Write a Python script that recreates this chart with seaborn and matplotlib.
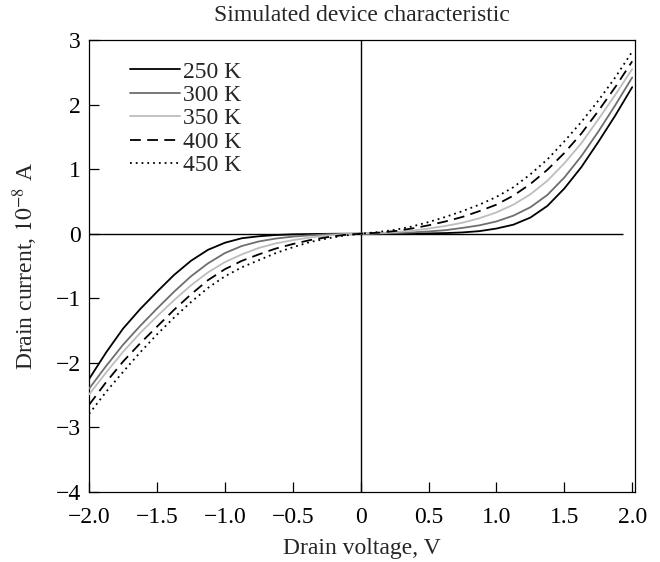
import numpy as np
import pandas as pd
import matplotlib
matplotlib.use("Agg")
import matplotlib.pyplot as plt
import seaborn as sns

# drain voltage grid, V
voltage = [-2.0, -1.875, -1.75, -1.625, -1.5, -1.375, -1.25, -1.125, -1.0,
           -0.875, -0.75, -0.625, -0.5, -0.375, -0.25, -0.125, 0.0,
           0.125, 0.25, 0.375, 0.5, 0.625, 0.75, 0.875, 1.0,
           1.125, 1.25, 1.375, 1.5, 1.625, 1.75, 1.875, 2.0]

# drain current, 1e-8 A
i_250 = [-2.25, -1.84, -1.47, -1.17, -0.90, -0.64, -0.42, -0.25, -0.14,
         -0.07, -0.04, -0.02, -0.01, -0.005, -0.002, 0.0, 0.0,
         0.0, 0.0, 0.002, 0.005, 0.01, 0.02, 0.04, 0.08,
         0.14, 0.25, 0.43, 0.70, 1.03, 1.42, 1.83, 2.27]
i_300 = [-2.40, -2.05, -1.72, -1.43, -1.16, -0.90, -0.66, -0.46, -0.30,
         -0.19, -0.12, -0.075, -0.045, -0.025, -0.01, -0.003, 0.0,
         0.003, 0.01, 0.02, 0.035, 0.055, 0.09, 0.13, 0.19,
         0.28, 0.41, 0.60, 0.87, 1.20, 1.58, 1.99, 2.42]
i_350 = [-2.49, -2.15, -1.83, -1.54, -1.28, -1.03, -0.80, -0.60, -0.44,
         -0.32, -0.22, -0.15, -0.10, -0.06, -0.03, -0.008, 0.0,
         0.008, 0.025, 0.045, 0.08, 0.12, 0.17, 0.24, 0.33,
         0.45, 0.61, 0.82, 1.09, 1.40, 1.77, 2.15, 2.55]
i_400 = [-2.65, -2.30, -1.98, -1.70, -1.44, -1.18, -0.94, -0.72, -0.55,
         -0.42, -0.32, -0.23, -0.16, -0.10, -0.055, -0.02, 0.0,
         0.015, 0.04, 0.08, 0.13, 0.19, 0.26, 0.35, 0.45,
         0.59, 0.77, 0.99, 1.25, 1.55, 1.90, 2.27, 2.67]
i_450 = [-2.79, -2.45, -2.14, -1.84, -1.56, -1.30, -1.06, -0.84, -0.66,
         -0.52, -0.41, -0.30, -0.21, -0.13, -0.075, -0.03, 0.0,
         0.025, 0.06, 0.11, 0.18, 0.26, 0.35, 0.45, 0.57,
         0.72, 0.92, 1.15, 1.43, 1.73, 2.06, 2.42, 2.82]

labels = ["250 K", "300 K", "350 K", "400 K", "450 K"]
currents = [i_250, i_300, i_350, i_400, i_450]

x_ticks = [-2.0, -1.5, -1.0, -0.5, 0.0, 0.5, 1.0, 1.5, 2.0]
x_ticklabels = ["\u22122.0", "\u22121.5", "\u22121.0", "\u22120.5", "0", "0.5", "1.0", "1.5", "2.0"]
y_ticks = [-4, -3, -2, -1, 0, 1, 2, 3]
y_ticklabels = ["\u22124", "\u22123", "\u22122", "\u22121", "0", "1", "2", "3"]

df = pd.concat([pd.DataFrame({"V": voltage, "I": cur, "T": lab})
                for lab, cur in zip(labels, currents)], ignore_index=True)

sns.set_theme(style="ticks")
plt.rcParams["font.family"] = ["Liberation Serif", "DejaVu Serif"]
plt.rcParams["mathtext.fontset"] = "stix"
plt.rcParams["axes.linewidth"] = 0.9

fs = 17

fig = plt.figure(figsize=(6.6, 5.62), dpi=100)
ax = fig.add_axes([0.135, 0.1246, 0.827, 0.8042])

# zero reference lines
ax.axvline(0, color="black", lw=1.0, zorder=1)
ax.hlines(0, -2.0, 1.93, color="black", lw=1.0, zorder=1)

palette = {"250 K": "#000000", "300 K": "#6e6e6e", "350 K": "#bdbdbd",
           "400 K": "#000000", "450 K": "#000000"}
dashes = {"250 K": "", "300 K": "", "350 K": "", "400 K": (6, 3.5), "450 K": (1, 2.2)}

sns.lineplot(data=df, x="V", y="I", hue="T", style="T", palette=palette,
             dashes=dashes, linewidth=1.3, ax=ax, zorder=3)

ax.set_xlim(-2.0, 2.02)
ax.set_ylim(-4, 3)
ax.set_xticks(x_ticks)
ax.set_xticklabels(x_ticklabels)
ax.set_yticks(y_ticks)
ax.set_yticklabels(y_ticklabels)
ax.tick_params(direction="in", length=7, width=0.9, labelsize=fs, colors="black")
ax.tick_params(axis="x", pad=11)
ax.tick_params(axis="y", pad=6)

for sp in ax.spines.values():
    sp.set_color("black")

ax.set_xlabel("Drain voltage, V", fontsize=fs, labelpad=7)
ax.set_ylabel("Drain current, $10^{-8}$ A", fontsize=fs, labelpad=11)
ax.set_title("Simulated device characteristic", fontsize=fs, pad=14)

leg = ax.legend(loc="upper left", frameon=False, fontsize=fs, handlelength=2.1,
                handletextpad=0.15, labelspacing=0.08, borderaxespad=0.3,
                bbox_to_anchor=(0.045, 0.99), title=None)
for h in leg.get_lines():
    h.set_linewidth(1.3)

fig.savefig("out.png", dpi=100)
